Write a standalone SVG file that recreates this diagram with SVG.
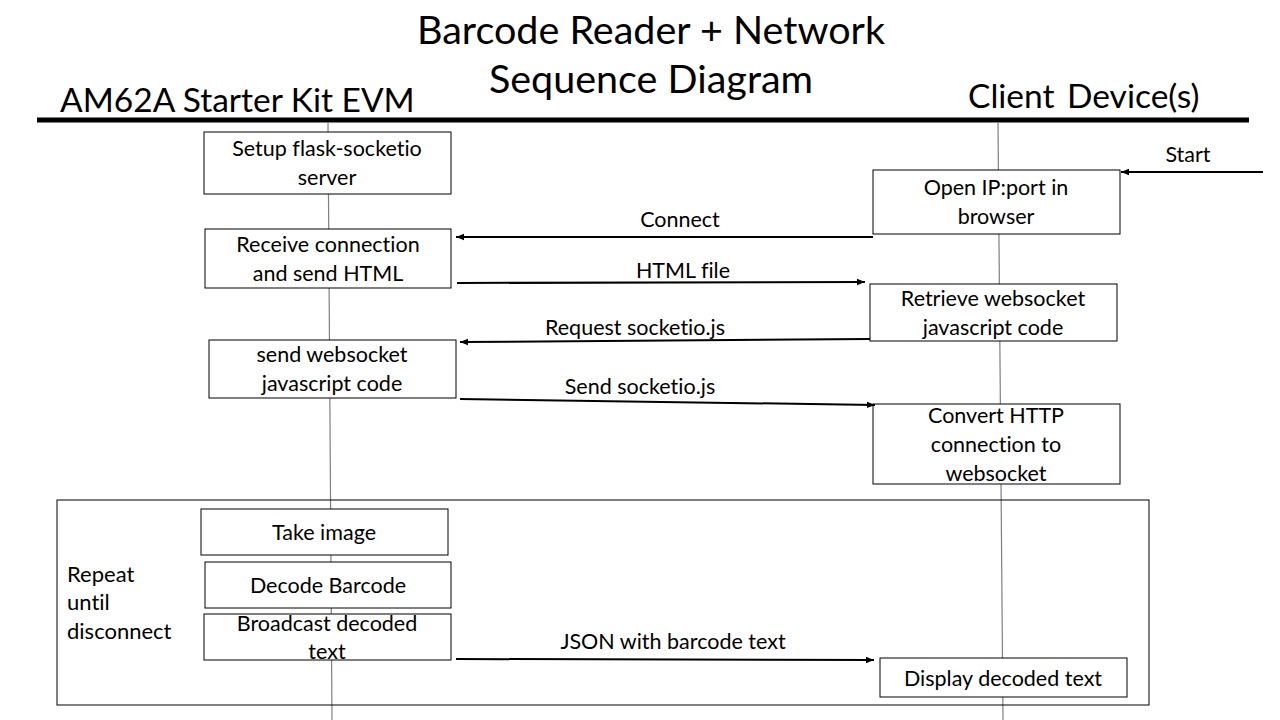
<svg xmlns="http://www.w3.org/2000/svg" width="1280" height="720" viewBox="0 0 1280 720">
<defs>
<marker id="ah" viewBox="0 0 10 10" refX="10" refY="5" markerWidth="8" markerHeight="8" markerUnits="userSpaceOnUse" orient="auto">
<path d="M0,1 L10,5 L0,9 Z" fill="#000"/>
</marker>
<style>
text{font-family:Lato,"Liberation Sans",sans-serif;fill:#000;font-variant-ligatures:none}
.t{font-size:39.5px;text-anchor:middle}
.h{font-size:33.5px}
.r{font-size:22px}
.b{font-size:21.5px;text-anchor:middle}
.l{font-size:21.5px;text-anchor:middle}
.box{fill:#fff;stroke:#000;stroke-width:1}
.life{stroke:#808080;stroke-width:1.2;fill:none}
.msg{stroke:#000;stroke-width:2;fill:none;marker-end:url(#ah)}
</style>
</defs>
<rect width="1280" height="720" fill="#fff"/>
<g id="title">
<text class="t" x="651" y="44">Barcode Reader + Network</text>
<text class="t" x="651" y="93">Sequence Diagram</text>
</g>
<g id="headers">
<text class="h" x="60" y="112">AM62A Starter Kit EVM</text>
<text class="h" x="968" y="108" word-spacing="4">Client Device(s)</text>
<line x1="37" y1="120" x2="1249" y2="120" stroke="#000" stroke-width="5"/>
</g>
<g id="lifelines">
<line class="life" x1="328" y1="122" x2="332" y2="720"/>
<line class="life" x1="998" y1="122" x2="1003" y2="720"/>
</g>
<g id="loop">
<rect x="57" y="500" width="1092" height="205" fill="none" stroke="#000" stroke-width="1"/>
<text class="r" x="67" y="582">Repeat</text>
<text class="r" x="67" y="610">until</text>
<text class="r" x="67" y="639">disconnect</text>
</g>
<g id="n1"><rect class="box" x="204" y="132" width="247" height="62"/><text class="b" x="327" y="156">Setup flask-socketio</text><text class="b" x="327" y="185">server</text></g>
<g id="n2"><rect class="box" x="205" y="229" width="246" height="59"/><text class="b" x="328" y="252">Receive connection</text><text class="b" x="328" y="281">and send HTML</text></g>
<g id="n3"><rect class="box" x="209" y="340" width="247" height="58"/><text class="b" x="332" y="362">send websocket</text><text class="b" x="332" y="391">javascript code</text></g>
<g id="n4"><rect class="box" x="873" y="170" width="247" height="64"/><text class="b" x="996" y="195">Open IP:port in</text><text class="b" x="996" y="224">browser</text></g>
<g id="n5"><rect class="box" x="870" y="284" width="247" height="57"/><text class="b" x="993" y="306">Retrieve websocket</text><text class="b" x="993" y="335">javascript code</text></g>
<g id="n6"><rect class="box" x="873" y="404" width="247" height="80"/><text class="b" x="996" y="423">Convert HTTP</text><text class="b" x="996" y="452">connection to</text><text class="b" x="996" y="481">websocket</text></g>
<g id="n7"><rect class="box" x="201" y="509" width="247" height="46"/><text class="b" x="324" y="540">Take image</text></g>
<g id="n8"><rect class="box" x="205" y="562" width="246" height="46"/><text class="b" x="328" y="593">Decode Barcode</text></g>
<g id="n9"><rect class="box" x="204" y="614" width="247" height="46"/><text class="b" x="327" y="631">Broadcast decoded</text><text class="b" x="327" y="659">text</text></g>
<g id="n10"><rect class="box" x="880" y="658" width="247" height="39"/><text class="b" x="1003" y="686">Display decoded text</text></g>
<g id="connectors">
<line class="msg" x1="1263" y1="172" x2="1121" y2="172"/>
<line class="msg" x1="873" y1="237" x2="456" y2="237"/>
<line class="msg" x1="457" y1="283" x2="865" y2="282"/>
<line class="msg" x1="870" y1="339" x2="460" y2="342"/>
<line class="msg" x1="460" y1="399" x2="875" y2="405"/>
<line class="msg" x1="456" y1="659" x2="874" y2="660"/>
<text class="l" x="1188" y="162">Start</text>
<text class="l" x="680" y="227">Connect</text>
<text class="l" x="683" y="278">HTML file</text>
<text class="l" x="635" y="335">Request socketio.js</text>
<text class="l" x="640" y="394">Send socketio.js</text>
<text class="l" x="673" y="649">JSON with barcode text</text>
</g>
</svg>
